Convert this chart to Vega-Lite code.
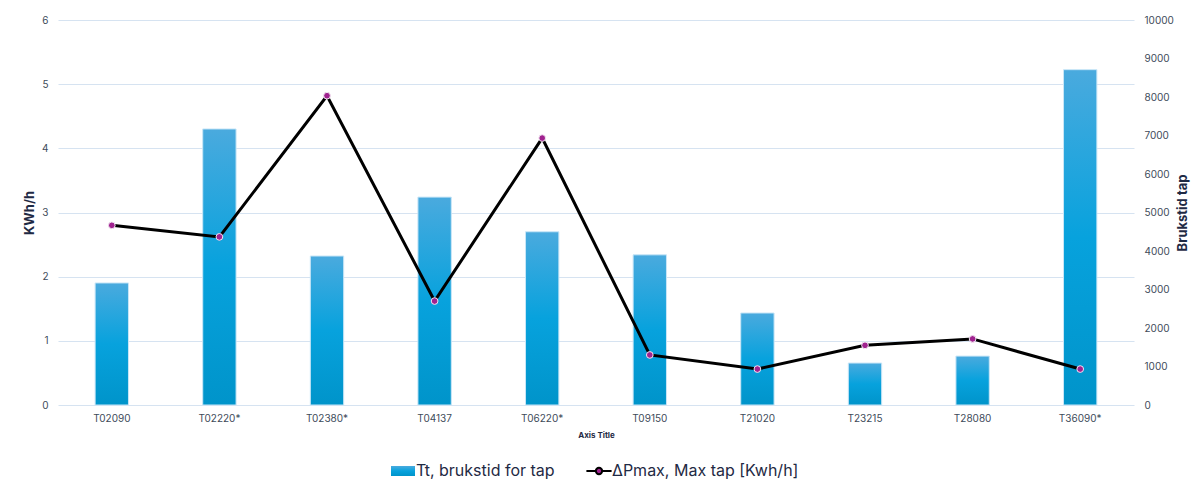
{
  "$schema": "https://vega.github.io/schema/vega-lite/v6.json",
  "autosize": {"type": "none"},
  "width": 1076,
  "height": 385,
  "padding": {"left": 58, "top": 20, "right": 65, "bottom": 87},
  "background": "white",
  "config": {
    "font": "Inter",
    "view": {"stroke": null},
    "axis": {"labelColor": "#404b5a", "labelFontSize": 10, "titleColor": "#1f2a44"},
    "legend": {"layout": {"bottom": {"anchor": "middle", "direction": "horizontal", "margin": 34}}}
  },
  "data": {
    "values": [
      {"tap": "T02090", "brukstid": 3170, "dpmax": 2.80},
      {"tap": "T02220*", "brukstid": 7170, "dpmax": 2.62},
      {"tap": "T02380*", "brukstid": 3870, "dpmax": 4.82},
      {"tap": "T04137", "brukstid": 5400, "dpmax": 1.62},
      {"tap": "T06220*", "brukstid": 4500, "dpmax": 4.16},
      {"tap": "T09150", "brukstid": 3900, "dpmax": 0.78},
      {"tap": "T21020", "brukstid": 2390, "dpmax": 0.56},
      {"tap": "T23215", "brukstid": 1090, "dpmax": 0.93},
      {"tap": "T28080", "brukstid": 1270, "dpmax": 1.03},
      {"tap": "T36090*", "brukstid": 8710, "dpmax": 0.56}
    ]
  },
  "encoding": {
    "x": {
      "field": "tap",
      "type": "nominal",
      "sort": null,
      "scale": {"paddingInner": 0.69, "paddingOuter": 0.345},
      "axis": {
        "title": "Axis Title",
        "titleFontSize": 8,
        "titleFontWeight": "bold",
        "titlePadding": 8,
        "labelAngle": 0,
        "labelPadding": 8,
        "ticks": false,
        "domain": false
      }
    }
  },
  "layer": [
    {
      "mark": {
        "type": "bar",
        "fill": {
          "gradient": "linear",
          "x1": 0, "y1": 0, "x2": 0, "y2": 1,
          "stops": [
            {"offset": 0, "color": "#4aaade"},
            {"offset": 0.5, "color": "#07a2dd"},
            {"offset": 1, "color": "#0094ca"}
          ]
        },
        "stroke": "#c9e6f7",
        "strokeWidth": 1
      },
      "encoding": {
        "y": {
          "field": "brukstid",
          "type": "quantitative",
          "scale": {"domain": [0, 10000]},
          "axis": {
            "orient": "right",
            "title": "Brukstid tap",
            "titleFontSize": 13,
            "titleFontWeight": "bold",
            "titleAngle": 270,
            "titlePadding": 16,
            "values": [0, 1000, 2000, 3000, 4000, 5000, 6000, 7000, 8000, 9000, 10000],
            "format": "d",
            "labelPadding": 10,
            "ticks": false,
            "domain": false,
            "grid": false
          }
        },
        "opacity": {
          "datum": "Tt, brukstid for tap",
          "scale": {"range": [1]},
          "legend": {
            "title": null,
            "orient": "bottom",
            "symbolType": "M-1.2,-0.5H1.2V0.5H-1.2Z",
            "symbolSize": 400,
            "symbolFillColor": "#12a0da",
            "symbolStrokeWidth": 0,
            "labelFontSize": 16,
            "labelColor": "#1f2a44",
            "labelLimit": 300,
            "labelOffset": 3,
            "offset": 22
          }
        }
      }
    },
    {
      "mark": {"type": "line", "strokeWidth": 3},
      "encoding": {
        "y": {
          "field": "dpmax",
          "type": "quantitative",
          "scale": {"domain": [0, 6]},
          "axis": {
            "orient": "left",
            "title": "KWh/h",
            "titleFontSize": 13,
            "titleFontWeight": "bold",
            "titlePadding": 5,
            "values": [0, 1, 2, 3, 4, 5, 6],
            "labelPadding": 10,
            "ticks": false,
            "domain": false,
            "grid": true,
            "gridColor": "#d6e3f1",
            "gridWidth": 1.2
          }
        },
        "stroke": {
          "datum": "ΔPmax, Max tap [Kwh/h]",
          "scale": {"range": ["#000000"]},
          "legend": {
            "title": null,
            "orient": "bottom",
            "symbolType": "M-1.4,0H-0.4M0.4,0H1.4M-0.35,0A0.35,0.35 0 1,0 0.35,0A0.35,0.35 0 1,0 -0.35,0Z",
            "symbolSize": 324,
            "symbolStrokeWidth": 2,
            "symbolFillColor": "#a0228f",
            "labelFontSize": 16,
            "labelColor": "#1f2a44",
            "labelLimit": 300,
            "labelOffset": 3,
            "offset": 22
          }
        }
      }
    },
    {
      "mark": {
        "type": "point",
        "filled": true,
        "fill": "#a0228f",
        "stroke": "#f2e6f2",
        "strokeWidth": 1,
        "size": 45,
        "opacity": 1
      },
      "encoding": {
        "y": {"field": "dpmax", "type": "quantitative", "scale": {"domain": [0, 6]}, "axis": null}
      }
    }
  ],
  "resolve": {"scale": {"y": "independent"}}
}
